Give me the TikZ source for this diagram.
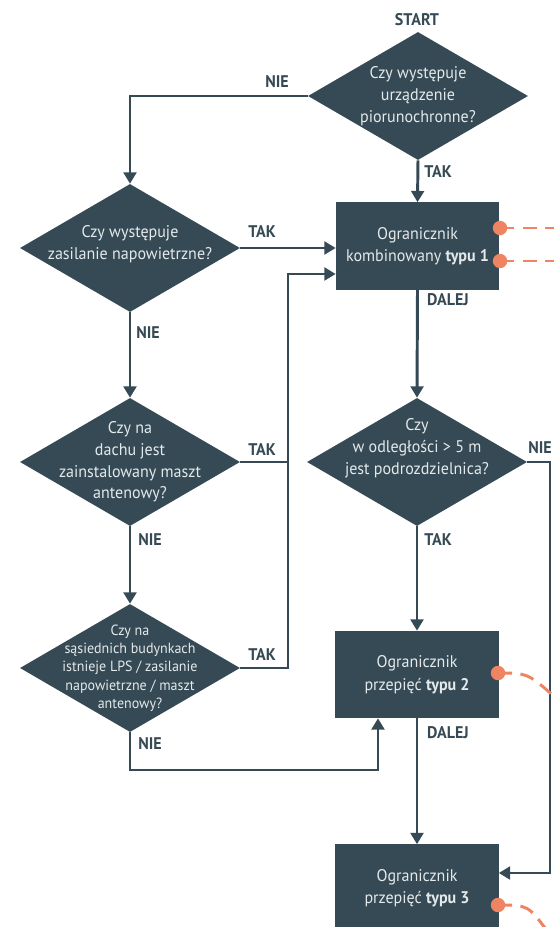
\documentclass[tikz,border=0pt]{standalone}
\usepackage{fontspec}
\setmainfont{PT Sans}[FakeStretch=0.95]
\usepackage{tikz}
\usetikzlibrary{arrows.meta,shapes.geometric,positioning}
\definecolor{slate}{HTML}{354A54}
\definecolor{pale}{HTML}{E4E9EB}
\definecolor{coral}{HTML}{EE8462}

\begin{document}
\begin{tikzpicture}[x=0.025cm,y=-0.025cm,
  question/.style={diamond,fill=slate,inner sep=0pt,minimum width=5.5cm,minimum height=3.2cm},
  qtext/.style={text=pale,align=center,font=\fontsize{12}{15.5}\selectfont},
  spd/.style={rectangle,fill=slate,text=pale,align=center,inner sep=0pt,minimum width=4.075cm,minimum height=2.175cm,font=\fontsize{12}{16}\selectfont},
  answer/.style={text=slate,font=\bfseries\fontsize{12}{14}\selectfont},
  conn/.style={draw=slate,line width=2.1pt},
  wire/.style={draw=coral,line width=2.1pt,dash pattern=on 10pt off 6pt},
  > = {Triangle[length=8pt,width=9pt]}]
\useasboundingbox (0,0) rectangle (553,927);
%\draw[step=50,color=gray] (0,0) grid (553,927);
%questions
\node[question] (q1) at (418,96) {};
\node[qtext] (q1t) at (q1) {Czy występuje\\urządzenie\\piorunochronne?};
\node[question] (q2) at (130,248) {};
\node[qtext] (q2t) at (130,244) {Czy występuje\\zasilanie napowietrzne?};
\node[question] (q3) at (130,462) {};
\node[qtext] (q3t) at (q3) {Czy na\\dachu jest\\zainstalowany maszt\\antenowy?};
\node[question] (q4) at (130,668) {};
\node[qtext,font=\fontsize{10.5}{13}\selectfont] (q4t) at (q4) {Czy na\\sąsiednich budynkach\\istnieje LPS / zasilanie\\napowietrzne / maszt\\antenowy?};
\node[question] (q5) at (417,462) {};
\node[qtext] (q5t) at (417,448) {Czy\\w odległości > 5 m\\jest podrozdzielnica?};
%surge protective devices
\node[spd] (typ1) at (417.5,246) {Ogranicznik\\kombinowany \textbf{typu 1}};
\node[spd] (typ2) at (417,674.5) {Ogranicznik\\przepięć \textbf{typu 2}};
\node[spd] (typ3) at (417,888) {Ogranicznik\\przepięć \textbf{typu 3}};
%answers
\node[answer] (start) at (417,20) {START};
\node[answer] (nie1) at (277,82) {NIE};
\node[answer] (tak1) at (438,172) {TAK};
\node[answer] (tak2) at (262,232) {TAK};
\node[answer] (dalej1) at (448,300) {DALEJ};
\node[answer] (nie2) at (148,333) {NIE};
\node[answer] (tak3) at (262,450) {TAK};
\node[answer,anchor=west,inner xsep=0pt] (nie5) at (528,448) {NIE};
\node[answer] (nie3) at (150,540) {NIE};
\node[answer] (tak5) at (438,540) {TAK};
\node[answer] (tak4) at (262,655) {TAK};
\node[answer] (dalej2) at (448,733) {DALEJ};
\node[answer] (nie4) at (150,744) {NIE};
%corners of the connectors
\coordinate (jn) at (288,274);
\coordinate (lp) at (378,770);
\coordinate (rp) at (550,873);
%connectors
\draw[conn,->] (q1.west) -| (q2.north);
\draw[conn,->] (q1.south) -- (typ1.north);
\draw[conn,->] (q2.east) -- (q2.east -| typ1.west);
\draw[conn,->] (q2.south) -- (q3.north);
\draw[conn] (q3.east) -- (q3.east -| jn);
\draw[conn,->] (q4.east) -| (jn) -- (jn -| typ1.west);
\draw[conn,->] (q3.south) -- (q4.north);
\draw[conn,->] (q4.south) |- (lp) -- (lp |- typ2.south);
\draw[conn,->] (typ1.south) -- (q5.north);
\draw[conn,->] (q5.south) -- (typ2.north);
\draw[conn,->] (q5.east) -| (rp) -- (rp -| typ3.east);
\draw[conn,->] (typ2.south) -- (typ3.north);
%wires leaving the devices
\coordinate (w1) at (500,228); \coordinate (w1e) at (560,228);
\coordinate (w2) at (500,261); \coordinate (w2e) at (560,261);
\coordinate (w3) at (498,673); \coordinate (w3e) at (558,700);
\coordinate (w4) at (498,905); \coordinate (w4e) at (548,932);
\draw[wire] (w1) -- (w1e);
\draw[wire] (w2) -- (w2e);
\draw[wire] (w3) .. controls (528,673) .. (w3e);
\draw[wire] (w4) .. controls (528,905) .. (w4e);
\fill[coral] (w1) circle (0.18cm); \fill[coral] (w2) circle (0.18cm);
\fill[coral] (w3) circle (0.18cm); \fill[coral] (w4) circle (0.18cm);
\end{tikzpicture}
\end{document}
